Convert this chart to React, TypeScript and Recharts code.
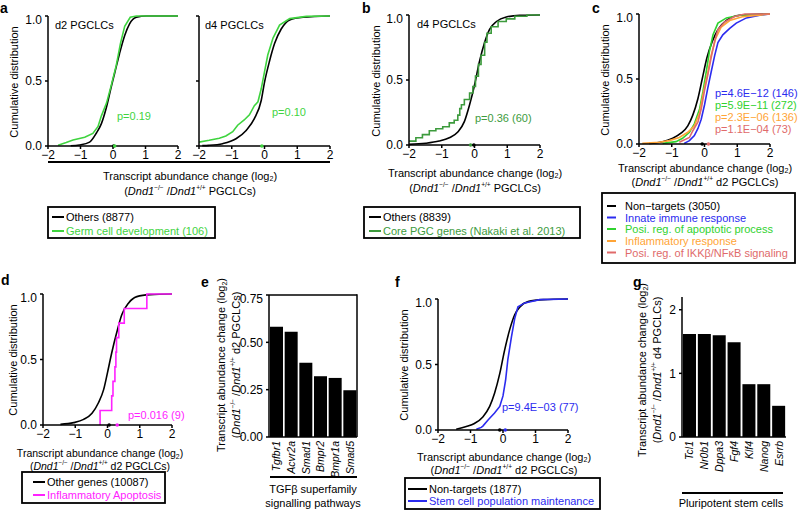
import React from 'react';
import { LineChart, Line, XAxis, YAxis, ComposedChart, Bar, ReferenceDot, ReferenceLine } from 'recharts';

// ---- data ----
const cdfTicks = [-2, -1, 0, 1, 2];
const cumTicks = [0, 0.5, 1];

// a: d2 PGCLCs
const aD2Others = [[-1.3, 0.002], [-1.03, 0.008], [-0.72, 0.03], [-0.51, 0.1], [-0.36, 0.17], [-0.2, 0.3], [-0.05, 0.46], [0.05, 0.56], [0.2, 0.71], [0.36, 0.85], [0.51, 0.94], [0.72, 0.99], [1.03, 1], [2, 1]];
const aD2Germ = [[-1.69, 0.005], [-1.44, 0.026], [-1.23, 0.046], [-0.87, 0.067], [-0.62, 0.097], [-0.46, 0.15], [-0.36, 0.23], [-0.2, 0.33], [-0.05, 0.47], [0.1, 0.62], [0.23, 0.79], [0.36, 0.92], [0.53, 0.99], [0.72, 1], [2, 1]];
// a: d4 PGCLCs
const aD4Others = [[-1.9, 0.003], [-1.7, 0.005], [-1.28, 0.018], [-0.87, 0.056], [-0.56, 0.12], [-0.31, 0.21], [-0.1, 0.35], [0, 0.49], [0.15, 0.65], [0.31, 0.79], [0.51, 0.9], [0.77, 0.97], [1.18, 0.99], [2, 1]];
const aD4Germ = [[-2, 0.03], [-1.69, 0.044], [-1.38, 0.06], [-1.18, 0.077], [-0.97, 0.11], [-0.82, 0.16], [-0.62, 0.2], [-0.46, 0.24], [-0.31, 0.31], [-0.2, 0.34], [-0.1, 0.44], [0, 0.57], [0.1, 0.7], [0.26, 0.83], [0.46, 0.93], [0.77, 0.98], [1.28, 0.997], [2, 1]];
// b
const bOthers = [[-2, 0.005], [-1.49, 0.013], [-1.08, 0.03], [-0.77, 0.056], [-0.51, 0.1], [-0.31, 0.18], [-0.15, 0.31], [0, 0.46], [0.15, 0.64], [0.31, 0.79], [0.46, 0.89], [0.67, 0.95], [0.97, 0.985], [1.38, 0.997], [2, 1]];
const bCore = [[-2, 0.03], [-1.79, 0.056], [-1.59, 0.08], [-1.38, 0.11], [-1.18, 0.125], [-0.97, 0.14], [-0.77, 0.17], [-0.62, 0.19], [-0.51, 0.23], [-0.45, 0.28], [-0.4, 0.31], [-0.31, 0.35], [-0.15, 0.4], [-0.05, 0.45], [0.03, 0.53], [0.12, 0.62], [0.2, 0.69], [0.31, 0.79], [0.38, 0.86], [0.51, 0.91], [0.72, 0.95], [0.97, 0.97], [1.23, 0.99], [1.6, 1], [2, 1]];
// c
const cNonTargets = [[-1.69, 0.005], [-1.28, 0.018], [-0.97, 0.044], [-0.72, 0.083], [-0.51, 0.14], [-0.36, 0.22], [-0.2, 0.35], [-0.07, 0.5], [0.07, 0.66], [0.24, 0.79], [0.41, 0.88], [0.67, 0.95], [1.08, 0.99], [2, 1]];
const cInnate = [[-0.62, 0.005], [-0.46, 0.026], [-0.31, 0.065], [-0.2, 0.12], [-0.1, 0.19], [0, 0.3], [0.1, 0.43], [0.2, 0.55], [0.31, 0.68], [0.41, 0.78], [0.56, 0.84], [0.77, 0.89], [0.97, 0.93], [1.28, 0.97], [1.69, 0.99], [2, 1]];
const cApoptotic = [[-1.28, 0.005], [-0.87, 0.018], [-0.67, 0.044], [-0.46, 0.09], [-0.31, 0.155], [-0.15, 0.27], [-0.05, 0.4], [0.05, 0.55], [0.15, 0.71], [0.26, 0.84], [0.41, 0.93], [0.67, 0.97], [1.08, 0.99], [2, 1]];
const cInflam = [[-1.9, 0.005], [-1.38, 0.013], [-1.08, 0.026], [-0.77, 0.05], [-0.51, 0.09], [-0.31, 0.14], [-0.15, 0.24], [-0.03, 0.4], [0.1, 0.55], [0.2, 0.68], [0.34, 0.81], [0.51, 0.9], [0.77, 0.95], [1.18, 0.98], [2, 1]];
const cIkk = [[-0.77, 0.013], [-0.46, 0.05], [-0.36, 0.1], [-0.2, 0.17], [-0.1, 0.27], [0, 0.41], [0.1, 0.53], [0.2, 0.66], [0.31, 0.79], [0.41, 0.88], [0.62, 0.94], [0.92, 0.98], [1.23, 1], [2, 1]];
// d
const dOthers = [[-1.46, 0.005], [-1.05, 0.018], [-0.74, 0.043], [-0.48, 0.09], [-0.28, 0.17], [-0.12, 0.27], [0, 0.4], [0.13, 0.55], [0.29, 0.71], [0.44, 0.84], [0.65, 0.93], [0.91, 0.98], [1.32, 0.995], [2, 1]];
const dApoptosis = [[-0.23, 0], [-0.23, 0.111], [0.13, 0.222], [0.17, 0.333], [0.23, 0.444], [0.26, 0.556], [0.28, 0.667], [0.35, 0.778], [0.52, 0.889], [1.22, 1], [2, 1]];
// f
const fNonTargets = [[-1.44, 0.005], [-1.13, 0.026], [-0.88, 0.05], [-0.62, 0.1], [-0.41, 0.18], [-0.26, 0.28], [-0.1, 0.43], [0.05, 0.61], [0.21, 0.77], [0.36, 0.88], [0.52, 0.94], [0.77, 0.98], [1.24, 0.995], [2, 1]];
const fStem = [[-0.82, 0.005], [-0.67, 0.02], [-0.62, 0.03], [-0.46, 0.077], [-0.26, 0.13], [-0.1, 0.18], [0, 0.26], [0.08, 0.38], [0.15, 0.54], [0.26, 0.71], [0.36, 0.85], [0.46, 0.94], [0.67, 0.97], [1.13, 0.995], [2, 1]];
// e
const eGenes = ['Tgfbr1', 'Acvr2a', 'Smad1', 'Bmpr2', 'Bmpr1a', 'Smad5'];
const eValues = [0.582, 0.556, 0.392, 0.321, 0.312, 0.247];
const eTicks = [0, 0.25, 0.5, 0.75];
// g
const gGenes = ['Tcl1', 'Nr0b1', 'Dppa3', 'Fgf4', 'Klf4', 'Nanog', 'Esrrb'];
const gValues = [1.62, 1.62, 1.6, 1.49, 0.83, 0.83, 0.49];
const gTicks = [0, 1, 2];

// ---- styling ----
const FONT = '"Liberation Sans", Arial, Helvetica, sans-serif';
const ax = { stroke: '#000', strokeWidth: 1.5 };
const tickStyle = { fill: '#000', fontSize: 12 };
const fmtX = (v: number) => (v < 0 ? `\u2212${Math.abs(v)}` : `${v}`);

const GREEN_A = '#3fd43f';
const GREEN_B = '#3d9b3d';
const BLUE = '#2b2bef';
const GREEN_C = '#2fd22f';
const ORANGE = '#ffa436';
const SALMON = '#e06a6a';
const MAGENTA = '#ff22ff';

type Curve = { pts: number[][]; color: string; kind?: 'monotone' | 'linear' | 'stepAfter' };
type Mark = { x: number; color: string };

function Cdf({ left, top, w, h, curves, marks, yLabels = true }: {
  left: number; top: number; w: number; h: number; curves: Curve[]; marks: Mark[]; yLabels?: boolean;
}) {
  const yW = 34, mt = 4, mr = 6, xH = 22;
  return (
    <div style={{ position: 'absolute', left: left - yW, top: top - mt }}>
      <LineChart width={yW + w + mr} height={mt + h + xH} margin={{ top: mt, right: mr, bottom: 0, left: 0 }}>
        <XAxis type="number" dataKey="x" domain={[-2, 2]} ticks={cdfTicks} allowDataOverflow height={xH}
          tickSize={3} tickMargin={1} tickFormatter={fmtX} tick={tickStyle} axisLine={ax} tickLine={ax} />
        <YAxis type="number" domain={[0, 1]} ticks={cumTicks} width={yW} tickSize={3} tickMargin={3}
          tickFormatter={(v: number) => (yLabels ? v.toFixed(1) : '')} tick={tickStyle} axisLine={ax} tickLine={ax} />
        {curves.map((c, i) => (
          <Line key={i} data={c.pts.map(([x, y]) => ({ x, y }))} dataKey="y" type={c.kind || 'monotone'}
            stroke={c.color} strokeWidth={1.6} dot={false} isAnimationActive={false} />
        ))}
        {marks.map((m, i) => (
          <ReferenceDot key={i} x={m.x} y={0} r={1.8} fill={m.color} stroke="none" ifOverflow="visible" />
        ))}
      </LineChart>
    </div>
  );
}

const GeneTick = (props: any) => {
  const { x, y, payload, names } = props;
  return (
    <text x={x} y={y} transform={`rotate(-90 ${x} ${y})`} textAnchor="end" dominantBaseline="central"
      fontSize={10.5} fontStyle="italic" fill="#000">{names[payload.value - 1]}</text>
  );
};

function Bars({ left, top, w, h, names, values, max, ticks, fmt, boxed }: {
  left: number; top: number; w: number; h: number; names: string[]; values: number[];
  max: number; ticks: number[]; fmt: (v: number) => string; boxed?: boolean;
}) {
  const yW = 34, mt = 4, mr = 4, xH = 50;
  const data = names.map((name, i) => ({ pos: i + 1, name, v: values[i] }));
  const positions = data.map((d) => d.pos);
  return (
    <div style={{ position: 'absolute', left: left - yW, top: top - mt }}>
      <ComposedChart width={yW + w + mr} height={mt + h + xH} data={data} barCategoryGap={1}
        margin={{ top: mt, right: mr, bottom: 0, left: 0 }}>
        <XAxis type="number" dataKey="pos" domain={[0.5, names.length + 0.5]} ticks={positions} interval={0}
          height={xH} tickSize={3} tickMargin={1} tick={(p: any) => <GeneTick {...p} names={names} />}
          tickLine={false} axisLine={ax} />
        <YAxis type="number" domain={[0, max]} ticks={ticks} width={yW} tickSize={3} tickMargin={3} allowDataOverflow
          tickFormatter={fmt} tick={tickStyle} axisLine={ax} tickLine={ax} />
        {boxed && <ReferenceLine y={max} stroke="#000" strokeWidth={1.5} />}
        <Bar dataKey="v" fill="#000" isAnimationActive={false} />
      </ComposedChart>
    </div>
  );
}

function AbundLabel({ cx, y1, y2, suffix, size = 11 }: { cx: number; y1: number; y2: number; suffix: string; size?: number }) {
  return (
    <g fontSize={size} textAnchor="middle">
      <text x={cx} y={y1} dominantBaseline="central">
        Transcript abundance change (log<tspan dy={3} fontSize={size * 0.65}>2</tspan><tspan dy={-3}>)</tspan>
      </text>
      <text x={cx} y={y2} dominantBaseline="central">
        (<tspan fontStyle="italic">Dnd1</tspan><tspan dy={-4} fontSize={size * 0.6}>{'\u2212/\u2212'}</tspan>
        <tspan dy={4}> /</tspan><tspan fontStyle="italic">Dnd1</tspan><tspan dy={-4} fontSize={size * 0.6}>+/+</tspan>
        <tspan dy={4}>{suffix}</tspan>
      </text>
    </g>
  );
}

function RotLabel({ x1, x2, cy, suffix }: { x1: number; x2: number; cy: number; suffix: string }) {
  return (
    <g fontSize={11} textAnchor="middle">
      <text x={x1} y={cy} transform={`rotate(-90 ${x1} ${cy})`} dominantBaseline="central">
        Transcript abundance change (log<tspan dy={3} fontSize={7}>2</tspan><tspan dy={-3}>)</tspan>
      </text>
      <text x={x2} y={cy} transform={`rotate(-90 ${x2} ${cy})`} dominantBaseline="central">
        (<tspan fontStyle="italic">Dnd1</tspan><tspan dy={-4} fontSize={6.5}>{'\u2212/\u2212'}</tspan>
        <tspan dy={4}> /</tspan><tspan fontStyle="italic">Dnd1</tspan><tspan dy={-4} fontSize={6.5}>+/+</tspan>
        <tspan dy={4}>{suffix}</tspan>
      </text>
    </g>
  );
}

function CumLabel({ x, cy }: { x: number; cy: number }) {
  return (
    <text x={x} y={cy} transform={`rotate(-90 ${x} ${cy})`} textAnchor="middle" dominantBaseline="central" fontSize={11}>
      Cumulative distribution
    </text>
  );
}

type Row = { label: React.ReactNode; color: string };
function LegendBox({ x, y, w, h, rows, rowY, lx1, lx2, tx }: {
  x: number; y: number; w: number; h: number; rows: Row[]; rowY: number[]; lx1: number; lx2: number; tx: number;
}) {
  return (
    <g>
      <rect x={x} y={y} width={w} height={h} fill="none" stroke="#000" strokeWidth={1.8} />
      {rows.map((r, i) => (
        <g key={i}>
          <line x1={lx1} x2={lx2} y1={rowY[i]} y2={rowY[i]} stroke={r.color} strokeWidth={2} />
          <text x={tx} y={rowY[i]} dominantBaseline="central" fontSize={11} fill={r.color}>{r.label}</text>
        </g>
      ))}
    </g>
  );
}

const Letter = ({ x, y, t }: { x: number; y: number; t: string }) => (
  <text x={x} y={y} fontSize={14} fontWeight="bold">{t}</text>
);

export default function App() {
  return (
    <div style={{ position: 'absolute', left: 0, top: 0, width: 800, height: 511, background: '#fff', fontFamily: FONT, overflow: 'hidden' }}>
      {/* a */}
      <Cdf left={48} top={16} w={130} h={130}
        curves={[{ pts: aD2Others, color: '#000' }, { pts: aD2Germ, color: GREEN_A, kind: 'linear' }]}
        marks={[{ x: 0.02, color: '#000' }, { x: 0.05, color: GREEN_A }]} />
      <Cdf left={199} top={16} w={131} h={130} yLabels={false}
        curves={[{ pts: aD4Others, color: '#000' }, { pts: aD4Germ, color: GREEN_A, kind: 'linear' }]}
        marks={[{ x: -0.08, color: GREEN_A }]} />
      {/* b */}
      <Cdf left={409} top={15} w={131} h={130}
        curves={[{ pts: bOthers, color: '#000' }, { pts: bCore, color: GREEN_B, kind: 'stepAfter' }]}
        marks={[{ x: -0.12, color: GREEN_B }, { x: -0.02, color: '#000' }]} />
      {/* c */}
      <Cdf left={639} top={14} w={131} h={130}
        curves={[
          { pts: cNonTargets, color: '#000' },
          { pts: cInnate, color: BLUE, kind: 'linear' },
          { pts: cApoptotic, color: GREEN_C, kind: 'linear' },
          { pts: cInflam, color: ORANGE, kind: 'linear' },
          { pts: cIkk, color: SALMON, kind: 'linear' },
        ]}
        marks={[{ x: -0.07, color: '#000' }, { x: 0.12, color: SALMON }]} />
      {/* d */}
      <Cdf left={43} top={294} w={129} h={131}
        curves={[{ pts: dOthers, color: '#000' }, { pts: dApoptosis, color: MAGENTA, kind: 'stepAfter' }]}
        marks={[{ x: 0.05, color: '#000' }, { x: 0.3, color: MAGENTA }]} />
      {/* e */}
      <Bars left={269} top={295} w={88} h={142} names={eGenes} values={eValues} max={0.75} ticks={eTicks}
        fmt={(v) => v.toFixed(2)} boxed />
      {/* f */}
      <Cdf left={438} top={299} w={130} h={131}
        curves={[{ pts: fNonTargets, color: '#000' }, { pts: fStem, color: BLUE, kind: 'linear' }]}
        marks={[{ x: -0.1, color: '#000' }, { x: 0.07, color: BLUE }]} />
      {/* g */}
      <Bars left={682} top={297} w={104} h={140} names={gGenes} values={gValues} max={2.2} ticks={gTicks}
        fmt={(v) => `${v}`} />

      <svg width={800} height={511} style={{ position: 'absolute', left: 0, top: 0, pointerEvents: 'none' }}>
        <Letter x={0} y={13} t="a" />
        <Letter x={362} y={13} t="b" />
        <Letter x={592} y={13} t="c" />
        <Letter x={1} y={285} t="d" />
        <Letter x={201} y={287} t="e" />
        <Letter x={395} y={287} t="f" />
        <Letter x={633} y={287} t="g" />

        {/* a */}
        <text x={55} y={25} dominantBaseline="central" fontSize={11}>d2 PGCLCs</text>
        <text x={205} y={25} dominantBaseline="central" fontSize={11}>d4 PGCLCs</text>
        <text x={117} y={116} dominantBaseline="central" fontSize={11} fill={GREEN_A}>p=0.19</text>
        <text x={272} y={112} dominantBaseline="central" fontSize={11} fill={GREEN_A}>p=0.10</text>
        <CumLabel x={14} cy={82} />
        <line x1={48} x2={330} y1={162} y2={162} stroke="#000" strokeWidth={2} />
        <AbundLabel cx={190} y1={176} y2={191} suffix=" PGCLCs)" />
        <LegendBox x={48} y={207} w={167} h={31} rowY={[217, 231]} lx1={52} lx2={64} tx={66}
          rows={[{ label: 'Others (8877)', color: '#000' }, { label: 'Germ cell development (106)', color: GREEN_A }]} />

        {/* b */}
        <text x={417} y={24} dominantBaseline="central" fontSize={11}>d4 PGCLCs</text>
        <text x={475} y={118} dominantBaseline="central" fontSize={11} fill={GREEN_B}>p=0.36 (60)</text>
        <CumLabel x={376} cy={81} />
        <AbundLabel cx={475} y1={173} y2={188} suffix=" PGCLCs)" />
        <LegendBox x={364} y={207} w={216} h={31} rowY={[217, 231]} lx1={369} lx2={381} tx={383}
          rows={[{ label: 'Others (8839)', color: '#000' }, { label: 'Core PGC genes (Nakaki et al. 2013)', color: GREEN_B }]} />

        {/* c */}
        <CumLabel x={605} cy={80} />
        <text x={715} y={93} dominantBaseline="central" fontSize={11} fill={BLUE}>p=4.6E{'\u2212'}12 (146)</text>
        <text x={715} y={105} dominantBaseline="central" fontSize={11} fill={GREEN_C}>p=5.9E{'\u2212'}11 (272)</text>
        <text x={715} y={117} dominantBaseline="central" fontSize={11} fill={ORANGE}>p=2.3E{'\u2212'}06 (136)</text>
        <text x={715} y={129} dominantBaseline="central" fontSize={11} fill={SALMON}>p=1.1E{'\u2212'}04 (73)</text>
        <AbundLabel cx={705} y1={168} y2={182} suffix=" d2 PGCLCs)" />
        <LegendBox x={602} y={193} w={193} h={70} rowY={[206, 217.5, 229, 241, 252.5]} lx1={607} lx2={616} tx={625}
          rows={[
            { label: 'Non\u2212targets (3050)', color: '#000' },
            { label: 'Innate immune response', color: BLUE },
            { label: 'Posi. reg. of apoptotic process', color: GREEN_C },
            { label: 'Inflammatory response', color: ORANGE },
            { label: 'Posi. reg. of IKK\u03b2/NF\u03baB signaling', color: SALMON },
          ]} />

        {/* d */}
        <CumLabel x={13} cy={360} />
        <text x={128} y={415} dominantBaseline="central" fontSize={11} fill={MAGENTA}>p=0.016 (9)</text>
        <AbundLabel cx={100} y1={453} y2={466} suffix=" d2 PGCLCs)" size={10.5} />
        <LegendBox x={22} y={472} w={143} h={31} rowY={[482, 495]} lx1={33} lx2={45} tx={47}
          rows={[{ label: 'Other genes (10087)', color: '#000' }, { label: 'Inflammatory Apoptosis', color: MAGENTA }]} />

        {/* e */}
        <RotLabel x1={221} x2={236} cy={365} suffix=" d2 PGCLCs)" />
        <line x1={357} x2={357} y1={294.3} y2={437} stroke="#000" strokeWidth={1.5} />
        <line x1={270} x2={357} y1={477} y2={477} stroke="#000" strokeWidth={2} />
        <text x={313} y={489} textAnchor="middle" dominantBaseline="central" fontSize={11}>TGF{'\u03b2'} superfamily</text>
        <text x={313} y={503} textAnchor="middle" dominantBaseline="central" fontSize={11}>signalling pathways</text>

        {/* f */}
        <CumLabel x={404} cy={365} />
        <text x={502} y={407} dominantBaseline="central" fontSize={11} fill={BLUE}>p=9.4E{'\u2212'}03 (77)</text>
        <AbundLabel cx={504} y1={457} y2={470} suffix=" d2 PGCLCs)" />
        <LegendBox x={405} y={478} w={195} h={31} rowY={[489, 501]} lx1={408} lx2={427} tx={429}
          rows={[{ label: 'Non-targets (1877)', color: '#000' }, { label: 'Stem cell population maintenance', color: BLUE }]} />

        {/* g */}
        <RotLabel x1={642} x2={657} cy={370} suffix=" d4 PGCLCs)" />
        <line x1={682} x2={783} y1={493} y2={493} stroke="#000" strokeWidth={2} />
        <text x={731} y={503} textAnchor="middle" dominantBaseline="central" fontSize={11}>Pluripotent stem cells</text>
      </svg>
    </div>
  );
}
